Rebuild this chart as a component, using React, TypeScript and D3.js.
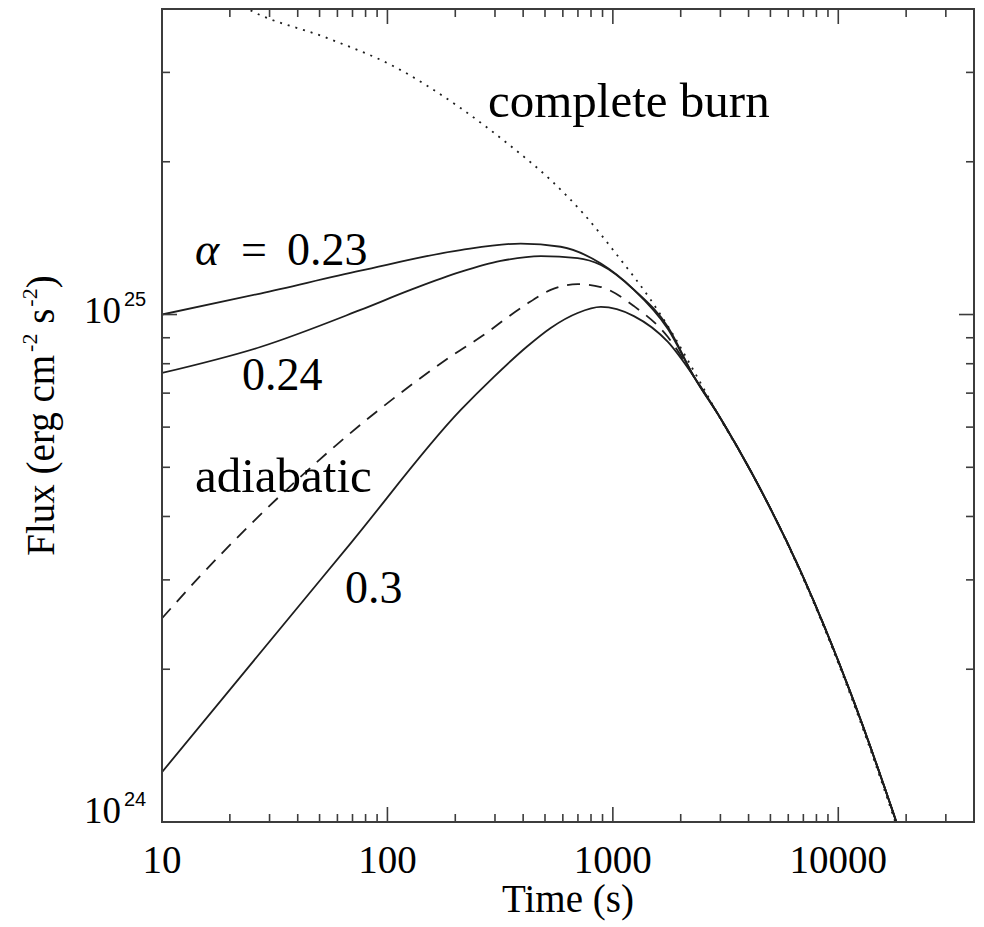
import React from "react";
import * as d3 from "d3";

// ---- Data ----
// Time in seconds, Flux in erg cm^-2 s^-2
const alpha023T = [10, 27.3, 75.9, 211, 390, 587, 885, 1240, 1755, 2291, 3020, 4105, 6850, 11430, 18100, 21100];
const alpha023F = [1.0e25, 1.10e25, 1.22e25, 1.34e25, 1.38e25, 1.36e25, 1.26e25, 1.12e25, 9.45e24, 7.54e24, 6.22e24, 4.90e24, 3.10e24, 1.78e24, 1.0e24, 8.15e23];

const alpha024T = [10, 27.3, 75.9, 126.6, 211, 318, 479, 698, 885, 1240, 1755, 2291, 3020, 4105, 6850, 11430, 18100, 21100];
const alpha024F = [7.67e24, 8.63e24, 1.021e25, 1.118e25, 1.213e25, 1.275e25, 1.304e25, 1.292e25, 1.252e25, 1.118e25, 9.36e24, 7.54e24, 6.22e24, 4.90e24, 3.10e24, 1.78e24, 1.0e24, 8.15e23];

const adiabaticT = [10, 14.75, 24.6, 41.1, 68.5, 114.2, 190.5, 259, 402, 530, 698, 885, 1240, 1755, 2291, 3020, 4105, 6850, 11430, 18100, 21100];
const adiabaticF = [2.52e24, 3.05e24, 3.853e24, 4.785e24, 5.84e24, 7.0e24, 8.26e24, 9.03e24, 1.039e25, 1.118e25, 1.148e25, 1.133e25, 1.039e25, 9.03e24, 7.54e24, 6.22e24, 4.90e24, 3.10e24, 1.78e24, 1.0e24, 8.15e23];

const alpha030T = [10, 24.6, 68.5, 211, 296, 419, 530, 698, 885, 1240, 1755, 2291, 3020, 4105, 6850, 11430, 18100, 21100];
const alpha030F = [1.254e24, 2.038e24, 3.537e24, 6.48e24, 7.53e24, 8.67e24, 9.41e24, 1.007e25, 1.035e25, 9.93e24, 8.83e24, 7.54e24, 6.22e24, 4.90e24, 3.10e24, 1.78e24, 1.0e24, 8.15e23];

const burnT = [20, 24.6, 54.1, 106, 211, 352, 530, 743, 1052, 1474, 1866, 2222, 3020, 4105, 6850, 11430, 18100, 21100];
const burnF = [4.2e25, 3.98e25, 3.506e25, 3.088e25, 2.552e25, 2.148e25, 1.841e25, 1.578e25, 1.304e25, 1.068e25, 9.07e24, 7.92e24, 6.2e24, 4.90e24, 3.08e24, 1.76e24, 0.985e24, 8.0e23];

const xMajorTicks = [10, 100, 1000, 10000];
const xTickLabels = ["10", "100", "1000", "10000"];
const yMajorTicks = [1e24, 1e25];
const yTickExponents = ["24", "25"];

const xDomain = [10, 40000];
const yDomain = [1e24, 4e25];

// ---- Layout ----
const W = 984;
const H = 927;
const L = 162, R = 974, T = 9, B = 822;
const INK = "#1e1e1e";
const FRAME = "#3c3c3c";
const SERIF = "'Liberation Serif', 'Times New Roman', Times, serif";
const SANS = "'Liberation Sans', Arial, Helvetica, sans-serif";

const serif = (size: number, extra: React.CSSProperties = {}): React.CSSProperties => ({
  fontFamily: SERIF,
  fontSize: size + "px",
  ...extra,
});

export default function App() {
  const x = d3.scaleLog().domain(xDomain).range([L, R]);
  const y = d3.scaleLog().domain(yDomain).range([B, T]);

  const line = d3
    .line<[number, number]>()
    .x((d) => x(d[0]))
    .y((d) => y(d[1]))
    .curve(d3.curveMonotoneX);

  const zip = (t: number[], f: number[]) => t.map((v, i) => [v, f[i]] as [number, number]);

  const series = [
    { key: "a023", d: line(zip(alpha023T, alpha023F)), dash: undefined as string | undefined },
    { key: "a024", d: line(zip(alpha024T, alpha024F)), dash: undefined },
    { key: "adia", d: line(zip(adiabaticT, adiabaticF)), dash: "13 9" },
    { key: "a030", d: line(zip(alpha030T, alpha030F)), dash: undefined },
    { key: "burn", d: line(zip(burnT, burnF)), dash: "2 6" },
  ];

  const xTicks = x.ticks();
  const yTicks = y.ticks();
  const isMajorX = (v: number) => xMajorTicks.some((m) => Math.abs(m - v) / m < 1e-6);
  const isMajorY = (v: number) => yMajorTicks.some((m) => Math.abs(m - v) / m < 1e-6);
  const MAJ = 15, MIN = 8;

  return (
    <svg
      width={W}
      height={H}
      viewBox={`0 0 ${W} ${H}`}
      style={{ position: "absolute", left: 0, top: 0, background: "#fff" }}
    >
      <defs>
        <clipPath id="plotClip">
          <rect x={L} y={T} width={R - L} height={B - T} />
        </clipPath>
      </defs>
      <rect x={0} y={0} width={W} height={H} fill="#fff" />

      {/* curves */}
      <g clipPath="url(#plotClip)" fill="none" stroke={INK}>
        {series.map((s) => (
          <path key={s.key} d={s.d || ""} strokeWidth={1.8} strokeDasharray={s.dash} />
        ))}
      </g>

      {/* ticks */}
      <g stroke={FRAME} strokeWidth={1.6}>
        {xTicks.map((v, i) => {
          const px = x(v);
          if (px <= L + 1 || px >= R - 1) return null;
          const len = isMajorX(v) ? MAJ : MIN;
          return (
            <g key={"xt" + i}>
              <line x1={px} x2={px} y1={B} y2={B - len} />
              <line x1={px} x2={px} y1={T} y2={T + len} />
            </g>
          );
        })}
        {yTicks.map((v, i) => {
          const py = y(v);
          if (py <= T + 3 || py >= B - 1) return null;
          const len = isMajorY(v) ? MAJ : MIN;
          return (
            <g key={"yt" + i}>
              <line x1={L} x2={L + len} y1={py} y2={py} />
              <line x1={R} x2={R - len} y1={py} y2={py} />
            </g>
          );
        })}
        <line x1={L} x2={L} y1={B} y2={B - MAJ} />
        <line x1={L} x2={L + MAJ} y1={B} y2={B} />
      </g>

      {/* frame */}
      <rect x={L} y={T} width={R - L} height={B - T} fill="none" stroke={FRAME} strokeWidth={2} />

      {/* x tick labels */}
      {xMajorTicks.map((v, i) => (
        <text key={"xl" + i} x={x(v)} y={873} textAnchor="middle" fill="#000" style={serif(39)}>
          {xTickLabels[i]}
        </text>
      ))}

      {/* y tick labels */}
      {yMajorTicks.map((v, i) => {
        const py = y(v);
        const base = i === 0 ? py + 1 : py + 8;
        return (
          <g key={"yl" + i}>
            <text x={121} y={base} textAnchor="end" fill="#000" style={serif(37)}>
              10
            </text>
            <text x={124} y={base - 17} fill="#000" style={{ fontFamily: SANS, fontSize: "20px" }}>
              {yTickExponents[i]}
            </text>
          </g>
        );
      })}

      {/* axis titles */}
      <text x={(L + R) / 2} y={912} textAnchor="middle" fill="#000" style={serif(39)}>
        Time (s)
      </text>
      <text
        transform={`translate(54, ${(T + B) / 2}) rotate(-90)`}
        textAnchor="middle"
        fill="#000"
        style={serif(39)}
      >
        Flux (erg cm
        <tspan style={{ fontSize: "22px" }} dy={-17} dx={3}>-2</tspan>
        <tspan dy={17}> s</tspan>
        <tspan style={{ fontSize: "22px" }} dy={-17} dx={2}>-2</tspan>
        <tspan dy={17}>)</tspan>
      </text>

      {/* annotations */}
      <text x={488} y={117} fill="#000" style={serif(49)}>complete burn</text>
      <text x={195} y={492} fill="#000" style={serif(49)}>adiabatic</text>
      <text x={195} y={265} fill="#000" style={serif(46, { fontStyle: "italic" })}>α</text>
      <text x={241} y={265} fill="#000" style={serif(46)}>=</text>
      <text x={287} y={265} fill="#000" style={serif(46)}>0.23</text>
      <text x={242} y={390} fill="#000" style={serif(46)}>0.24</text>
      <text x={345} y={603} fill="#000" style={serif(46)}>0.3</text>
    </svg>
  );
}
